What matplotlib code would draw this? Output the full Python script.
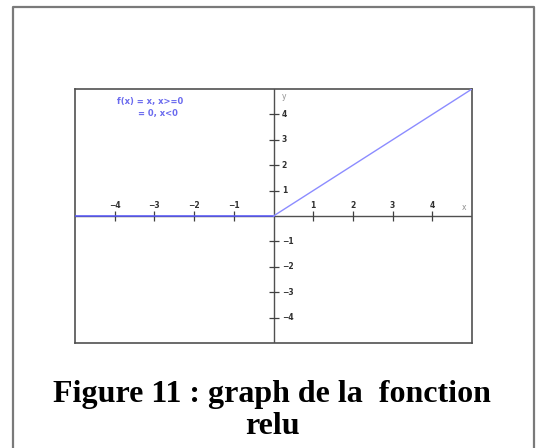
import numpy as np
import matplotlib.pyplot as plt
from matplotlib.lines import Line2D

# relu : f(x) = x pour x>=0, 0 sinon
x_pts = [-5, 0, 5]
y_pts = [0, 0, 5]
x_ticks = [-4, -3, -2, -1, 1, 2, 3, 4]
y_ticks = [-4, -3, -2, -1, 1, 2, 3, 4]
legende = ["f(x) = x, x>=0", "= 0, x<0"]
titre = ["Figure 11 : graph de la  fonction", "relu"]

W, H = 536, 448
fig = plt.figure(figsize=(W / 100, H / 100), dpi=100)
fig.patch.set_facecolor("white")

# cadre gris autour de la figure (ouvert en bas)
gris = "#7a7a7a"
fx = lambda px: px / W
fy = lambda py: 1 - py / H
fig.add_artist(Line2D([fx(12.5), fx(12.5), fx(534), fx(534)],
                      [0, fy(7.5), fy(7.5), 0], color=gris, lw=1.6,
                      transform=fig.transFigure))

ax = fig.add_axes([75 / W, 1 - 343 / H, (472 - 75) / W, (343 - 89) / H])
ax.set_xlim(-5, 5)
ax.set_ylim(-5, 5)
ax.set_xticks([])
ax.set_yticks([])
for s in ax.spines.values():
    s.set_color("#505050")
    s.set_linewidth(1.2)

# axes du repere
ax.axhline(0, color="#505050", lw=1.0, zorder=1)
ax.axvline(0, color="#505050", lw=1.0, zorder=1)

# graduations
ax.plot(x_ticks, [0] * len(x_ticks), ls="none", marker="|", ms=7,
        mew=0.9, color="#404040", zorder=2)
ax.plot([0] * len(y_ticks), y_ticks, ls="none", marker="_", ms=7,
        mew=0.9, color="#404040", zorder=2)
for t in x_ticks:
    ax.annotate(f"{t}".replace("-", "\u2212"), (t, 0), xytext=(0, 4.5),
                textcoords="offset points", ha="center", va="bottom",
                fontsize=5.5, fontweight="bold", color="#303030")
for t in y_ticks:
    ax.annotate(f"{t}".replace("-", "\u2212"), (0, t), xytext=(6, 0),
                textcoords="offset points", ha="left", va="center",
                fontsize=5.5, fontweight="bold", color="#303030")
ax.annotate("x", (4.8, 0), xytext=(0, 3), textcoords="offset points",
            ha="center", va="bottom", fontsize=5.5, color="#909090")
ax.annotate("y", (0, 4.7), xytext=(6, 0), textcoords="offset points",
            ha="left", va="center", fontsize=5.5, color="#909090")

# courbe
ax.plot(x_pts[:2], y_pts[:2], color="#5a5aff", lw=1.1, zorder=3)
ax.plot(x_pts[1:], y_pts[1:], color="#8c8cff", lw=1.0, zorder=3)

ax.text(-3.95, 4.5, legende[0], fontsize=6, fontweight="bold",
        color="#6a6aee", ha="left", va="center")
ax.text(-3.42, 4.05, legende[1], fontsize=6, fontweight="bold",
        color="#6a6aee", ha="left", va="center")

fig.text(fx(272), fy(394), titre[0], ha="center", va="center",
         fontsize=23, fontweight="bold", family="Liberation Serif")
fig.text(fx(272), fy(426), titre[1], ha="center", va="center",
         fontsize=23, fontweight="bold", family="Liberation Serif")

fig.savefig("out.png", dpi=100)
